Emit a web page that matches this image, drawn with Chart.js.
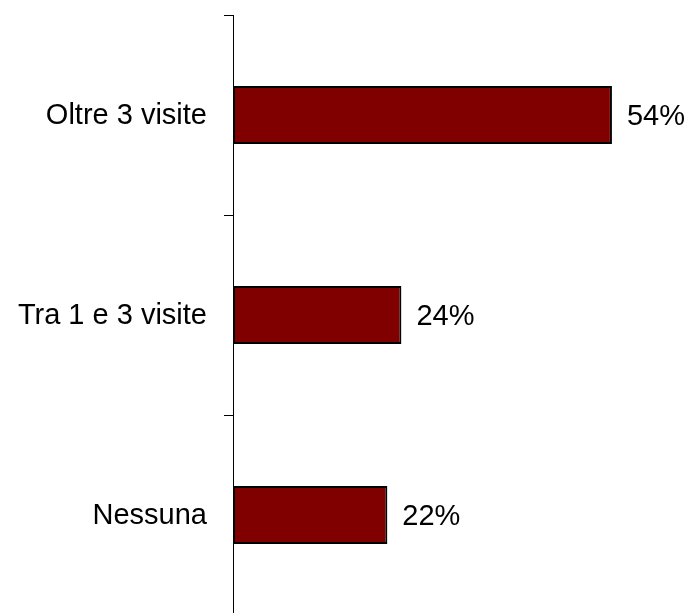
<!DOCTYPE html>
<html>
<head>
<meta charset="utf-8">
<script src="https://cdn.jsdelivr.net/npm/chart.js@4"></script>
<style>
  html, body { margin: 0; padding: 0; background: #fff; overflow: hidden; }
  #wrap { width: 689px; height: 613px; overflow: hidden; }
</style>
</head>
<body>
<div id="wrap"><canvas id="visite" width="689" height="620"></canvas></div>
<script>
// answers to "how many visits"
const categories = ["Oltre 3 visite", "Tra 1 e 3 visite", "Nessuna"];
const percentages = [54, 24, 22];

const fontFamily = "'Liberation Sans', Arial, sans-serif";

// writes "54%" etc. just right of each bar
const valueLabels = {
    id: "valueLabels",
    afterDatasetsDraw(chart) {
        const ctx = chart.ctx;
        const meta = chart.getDatasetMeta(0);
        ctx.save();
        ctx.font = "29px " + fontFamily;
        ctx.fillStyle = "#000";
        ctx.textAlign = "left";
        ctx.textBaseline = "middle";
        meta.data.forEach((bar, i) => {
            ctx.fillText(percentages[i] + "%", bar.x + 15, bar.y + 2);
        });
        ctx.restore();
    }
};

new Chart(document.getElementById("visite"), {
    type: "bar",
    data: {
        labels: categories,
        datasets: [{
            data: percentages,
            backgroundColor: "#800000",
            borderColor: "#000",
            borderWidth: 2,
            borderSkipped: false,
            categoryPercentage: 1,
            barPercentage: 0.29
        }]
    },
    options: {
        indexAxis: "y",
        responsive: false,
        animation: false,
        layout: { padding: { top: 15, bottom: 5, left: 0, right: 35 } },
        plugins: {
            legend: { display: false },
            tooltip: { enabled: false }
        },
        scales: {
            x: { display: false, min: 0, max: 60 },
            y: {
                border: { display: true, color: "#000", width: 1 },
                grid: {
                    offset: true,
                    drawOnChartArea: false,
                    drawTicks: true,
                    tickLength: 9,
                    color: "#000"
                },
                ticks: {
                    color: "#000",
                    padding: 17,
                    labelOffset: 1,
                    font: { family: fontFamily, size: 29 }
                },
                // fixed label column; no extra room above/below for the labels
                afterFit(scale) {
                    scale.width = 233;
                    scale.paddingTop = 0;
                    scale.paddingBottom = 0;
                }
            }
        }
    },
    plugins: [valueLabels]
});
</script>
</body>
</html>
